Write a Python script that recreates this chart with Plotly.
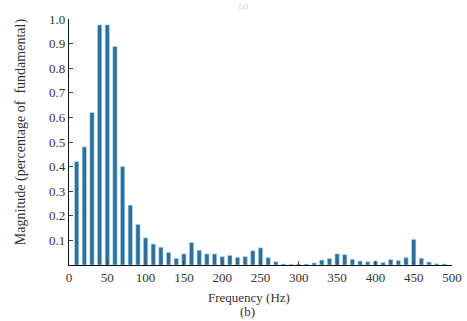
import plotly.graph_objects as go

freq_hz = [10, 20, 30, 40, 50, 60, 70, 80, 90, 100,
           110, 120, 130, 140, 150, 160, 170, 180, 190, 200,
           210, 220, 230, 240, 250, 260, 270, 280, 290, 300,
           310, 320, 330, 340, 350, 360, 370, 380, 390, 400,
           410, 420, 430, 440, 450, 460, 470, 480, 490]
magnitude = [0.42, 0.48, 0.62, 0.976, 0.976, 0.888, 0.40, 0.243, 0.165, 0.11,
             0.085, 0.072, 0.051, 0.027, 0.045, 0.091, 0.06, 0.045, 0.045, 0.034,
             0.039, 0.031, 0.034, 0.058, 0.07, 0.03, 0.013, 0.004, 0.003, 0.003,
             0.004, 0.008, 0.02, 0.026, 0.045, 0.042, 0.023, 0.016, 0.013, 0.016,
             0.01, 0.022, 0.018, 0.03, 0.104, 0.027, 0.012, 0.005, 0.004]

x_ticks = [0, 50, 100, 150, 200, 250, 300, 350, 400, 450, 500]
y_ticks = [0.1, 0.2, 0.3, 0.4, 0.5, 0.6, 0.7, 0.8, 0.9, 1.0]

serif = "Liberation Serif, Times New Roman, serif"
txt = "#333"

fig = go.Figure(go.Bar(
    x=freq_hz, y=magnitude, width=5.6,
    marker=dict(color="#2f6e99", line=dict(color="#a9dcef", width=0.6)),
))

fig.update_layout(
    width=467, height=321,
    margin=dict(l=69, r=15, t=19, b=56),
    paper_bgcolor="white", plot_bgcolor="white",
    showlegend=False,
    font=dict(family=serif, size=13, color=txt),
    xaxis=dict(range=[0, 500], tickvals=x_ticks, ticks="inside", ticklen=4,
               showline=True, linecolor="#111", linewidth=1.2, showgrid=False,
               zeroline=False, automargin=False, ticklabeloverflow="allow",
               tickfont=dict(family=serif, size=13, color=txt)),
    yaxis=dict(range=[0, 1.0], tickvals=y_ticks, tickformat=".1f", ticks="inside",
               ticklen=4, showline=True, linecolor="#111", linewidth=1.2,
               showgrid=False, zeroline=False, automargin=False,
               tickfont=dict(family=serif, size=13, color=txt)),
    annotations=[
        dict(text="Frequency (Hz)", xref="paper", yref="paper", x=0.47, y=0,
             yshift=-23, yanchor="top", showarrow=False,
             font=dict(family=serif, size=13, color=txt)),
        dict(text="(b)", xref="paper", yref="paper", x=0.465, y=0,
             yshift=-37, yanchor="top", showarrow=False,
             font=dict(family=serif, size=13, color=txt)),
        dict(text="Magnitude (percentage of  fundamental)", xref="paper",
             yref="paper", x=0, y=0.54, xshift=-48, xanchor="center",
             yanchor="middle", textangle=-90, showarrow=False,
             font=dict(family=serif, size=14, color=txt)),
        dict(text="(a)", xref="paper", yref="paper", x=0.455, y=1,
             yshift=19, yanchor="top", showarrow=False,
             font=dict(family=serif, size=8, color="#ccc")),
    ],
)

fig.write_html(
    "out.html",
    config={"displayModeBar": False},
    post_script="document.body.style.margin='0';document.body.style.overflow='hidden';",
)
